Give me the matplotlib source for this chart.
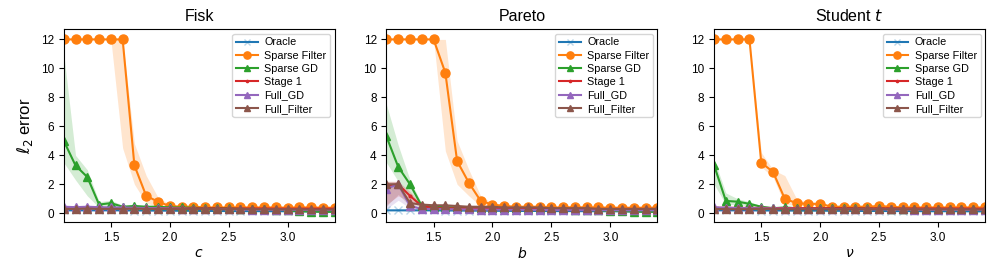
import numpy as np
import matplotlib
matplotlib.use("Agg")
import matplotlib.pyplot as plt

plt.rcParams['font.family'] = ['Liberation Sans', 'DejaVu Sans']

x = [1.1, 1.2, 1.3, 1.4, 1.5, 1.6, 1.7, 1.8, 1.9, 2.0, 2.1, 2.2,
     2.3, 2.4, 2.5, 2.6, 2.7, 2.8, 2.9, 3.0, 3.1, 3.2, 3.3, 3.4]

titles = ["Fisk", "Pareto", "Student $t$"]
xlabels = ["$c$", "$b$", r"$\nu$"]
methods = ["Oracle", "Sparse Filter", "Sparse GD", "Stage 1", "Full_GD", "Full_Filter"]

# ---- Fisk ----
fisk_oracle = [0.2, 0.2, 0.2, 0.2, 0.2, 0.2, 0.19, 0.19, 0.18, 0.18, 0.17, 0.17, 0.16, 0.16, 0.15, 0.15, 0.15, 0.14, 0.14, 0.14, 0.13, 0.13, 0.13, 0.12]
fisk_sf = [12, 12, 12, 12, 12, 12, 3.3, 1.2, 0.8, 0.5, 0.45, 0.45, 0.4, 0.4, 0.4, 0.4, 0.4, 0.4, 0.4, 0.38, 0.4, 0.4, 0.38, 0.38]
fisk_sf_lo = [12, 12, 12, 12, 12, 4.5, 2.0, 0.7, 0.45, 0.4, 0.4, 0.4, 0.35, 0.35, 0.35, 0.35, 0.35, 0.35, 0.35, 0.33, 0.35, 0.35, 0.33, 0.33]
fisk_sf_hi = [12, 12, 12, 12, 12, 12, 4.8, 2.6, 1.1, 0.6, 0.5, 0.5, 0.45, 0.45, 0.45, 0.45, 0.45, 0.45, 0.45, 0.43, 0.45, 0.45, 0.43, 0.43]
fisk_sgd = [5.0, 3.3, 2.5, 0.6, 0.7, 0.45, 0.5, 0.45, 0.45, 0.4, 0.4, 0.38, 0.35, 0.35, 0.35, 0.3, 0.3, 0.28, 0.25, 0.2, 0.15, 0.12, 0.1, 0.1]
fisk_sgd_lo = [3.5, 2.3, 1.2, 0.4, 0.5, 0.35, 0.4, 0.38, 0.38, 0.33, 0.33, 0.32, 0.3, 0.3, 0.3, 0.25, 0.25, 0.22, 0.2, 0.15, 0.1, 0.07, 0.05, 0.05]
fisk_sgd_hi = [11.0, 4.0, 3.0, 0.8, 0.9, 0.55, 0.6, 0.52, 0.52, 0.47, 0.47, 0.44, 0.4, 0.4, 0.4, 0.35, 0.35, 0.34, 0.3, 0.25, 0.2, 0.17, 0.15, 0.15]
fisk_st1 = [0.38, 0.37, 0.37, 0.36, 0.36, 0.36, 0.35, 0.35, 0.35, 0.35, 0.34, 0.34, 0.34, 0.34, 0.33, 0.33, 0.33, 0.33, 0.32, 0.32, 0.32, 0.32, 0.32, 0.32]
fisk_fgd = [0.45, 0.42, 0.45, 0.42, 0.4, 0.4, 0.38, 0.36, 0.35, 0.33, 0.32, 0.3, 0.3, 0.28, 0.28, 0.26, 0.25, 0.25, 0.24, 0.24, 0.23, 0.22, 0.22, 0.22]
fisk_ff = [0.3, 0.3, 0.32, 0.3, 0.3, 0.3, 0.32, 0.3, 0.3, 0.3, 0.28, 0.3, 0.3, 0.28, 0.28, 0.3, 0.28, 0.28, 0.27, 0.27, 0.27, 0.26, 0.26, 0.26]

# ---- Pareto ----
par_oracle = [0.2, 0.2, 0.2, 0.2, 0.2, 0.19, 0.19, 0.18, 0.18, 0.17, 0.17, 0.16, 0.16, 0.16, 0.15, 0.15, 0.15, 0.14, 0.14, 0.14, 0.13, 0.13, 0.13, 0.13]
par_sf = [12, 12, 12, 12, 12, 9.7, 3.6, 2.1, 0.85, 0.6, 0.5, 0.45, 0.45, 0.45, 0.4, 0.4, 0.42, 0.4, 0.4, 0.38, 0.38, 0.38, 0.38, 0.38]
par_sf_lo = [12, 12, 12, 12, 12, 4.3, 2.0, 1.2, 0.5, 0.45, 0.42, 0.4, 0.4, 0.4, 0.35, 0.35, 0.37, 0.35, 0.35, 0.33, 0.33, 0.33, 0.33, 0.33]
par_sf_hi = [12, 12, 12, 12, 12, 12, 5.0, 3.0, 1.2, 0.7, 0.58, 0.5, 0.5, 0.5, 0.45, 0.45, 0.47, 0.45, 0.45, 0.43, 0.43, 0.43, 0.43, 0.43]
par_sgd = [5.3, 3.2, 2.0, 0.5, 0.45, 0.42, 0.4, 0.38, 0.36, 0.35, 0.34, 0.33, 0.32, 0.3, 0.28, 0.26, 0.24, 0.22, 0.2, 0.18, 0.15, 0.12, 0.1, 0.1]
par_sgd_lo = [3.5, 2.2, 1.2, 0.35, 0.38, 0.36, 0.34, 0.32, 0.3, 0.3, 0.29, 0.28, 0.27, 0.25, 0.23, 0.21, 0.19, 0.17, 0.15, 0.13, 0.1, 0.07, 0.05, 0.05]
par_sgd_hi = [7.5, 4.7, 2.3, 0.65, 0.52, 0.48, 0.46, 0.44, 0.42, 0.4, 0.39, 0.38, 0.37, 0.35, 0.33, 0.31, 0.29, 0.27, 0.25, 0.23, 0.2, 0.17, 0.15, 0.15]
par_st1 = [1.9, 2.0, 1.2, 0.5, 0.35, 0.35, 0.34, 0.34, 0.33, 0.33, 0.33, 0.32, 0.32, 0.32, 0.31, 0.31, 0.31, 0.3, 0.3, 0.3, 0.3, 0.3, 0.3, 0.3]
par_st1_lo = [0.6, 1.2, 0.8, 0.4, 0.3, 0.3, 0.3, 0.3, 0.29, 0.29, 0.29, 0.28, 0.28, 0.28, 0.27, 0.27, 0.27, 0.26, 0.26, 0.26, 0.26, 0.26, 0.26, 0.26]
par_st1_hi = [2.2, 2.2, 1.5, 0.6, 0.4, 0.4, 0.38, 0.38, 0.37, 0.37, 0.37, 0.36, 0.36, 0.36, 0.35, 0.35, 0.35, 0.34, 0.34, 0.34, 0.34, 0.34, 0.34, 0.34]
par_fgd = [1.7, 2.0, 0.5, 0.3, 0.3, 0.28, 0.27, 0.26, 0.25, 0.25, 0.24, 0.24, 0.23, 0.23, 0.22, 0.22, 0.22, 0.21, 0.21, 0.21, 0.2, 0.2, 0.2, 0.2]
par_fgd_lo = [0.3, 0.9, 0.35, 0.25, 0.25, 0.24, 0.23, 0.22, 0.21, 0.21, 0.2, 0.2, 0.19, 0.19, 0.18, 0.18, 0.18, 0.17, 0.17, 0.17, 0.16, 0.16, 0.16, 0.16]
par_fgd_hi = [2.1, 2.1, 0.7, 0.35, 0.35, 0.32, 0.31, 0.3, 0.29, 0.29, 0.28, 0.28, 0.27, 0.27, 0.26, 0.26, 0.26, 0.25, 0.25, 0.25, 0.24, 0.24, 0.24, 0.24]
par_ff = [2.0, 2.0, 0.7, 0.6, 0.55, 0.55, 0.5, 0.45, 0.45, 0.45, 0.4, 0.4, 0.4, 0.4, 0.35, 0.35, 0.35, 0.35, 0.3, 0.3, 0.3, 0.3, 0.3, 0.3]
par_ff_lo = [0.5, 1.3, 0.5, 0.5, 0.48, 0.48, 0.44, 0.4, 0.4, 0.4, 0.35, 0.35, 0.35, 0.35, 0.3, 0.3, 0.3, 0.3, 0.26, 0.26, 0.26, 0.26, 0.26, 0.26]
par_ff_hi = [2.2, 2.2, 1.0, 0.7, 0.62, 0.62, 0.56, 0.5, 0.5, 0.5, 0.45, 0.45, 0.45, 0.45, 0.4, 0.4, 0.4, 0.4, 0.34, 0.34, 0.34, 0.34, 0.34, 0.34]

# ---- Student t ----
st_oracle = [0.2, 0.2, 0.2, 0.2, 0.19, 0.19, 0.19, 0.18, 0.18, 0.18, 0.17, 0.17, 0.16, 0.16, 0.16, 0.15, 0.15, 0.15, 0.14, 0.14, 0.14, 0.14, 0.13, 0.13]
st_sf = [12, 12, 12, 12, 3.5, 2.85, 1.0, 0.7, 0.65, 0.65, 0.45, 0.45, 0.45, 0.45, 0.5, 0.45, 0.4, 0.4, 0.4, 0.4, 0.4, 0.4, 0.4, 0.4]
st_sf_lo = [12, 12, 12, 12, 3.2, 2.5, 0.6, 0.55, 0.55, 0.55, 0.4, 0.4, 0.4, 0.4, 0.44, 0.4, 0.35, 0.35, 0.35, 0.35, 0.35, 0.35, 0.35, 0.35]
st_sf_hi = [12, 12, 12, 12, 4.2, 3.0, 2.6, 1.0, 0.75, 0.75, 0.5, 0.5, 0.5, 0.5, 0.56, 0.5, 0.45, 0.45, 0.45, 0.45, 0.45, 0.45, 0.45, 0.45]
st_sgd = [3.3, 0.85, 0.8, 0.65, 0.45, 0.35, 0.4, 0.35, 0.35, 0.35, 0.35, 0.35, 0.35, 0.33, 0.33, 0.32, 0.32, 0.3, 0.3, 0.3, 0.3, 0.28, 0.28, 0.28]
st_sgd_lo = [2.0, 0.6, 0.6, 0.5, 0.38, 0.3, 0.34, 0.3, 0.3, 0.3, 0.3, 0.3, 0.3, 0.28, 0.28, 0.27, 0.27, 0.25, 0.25, 0.25, 0.25, 0.23, 0.23, 0.23]
st_sgd_hi = [3.7, 1.4, 1.0, 0.8, 0.52, 0.4, 0.46, 0.4, 0.4, 0.4, 0.4, 0.4, 0.4, 0.38, 0.38, 0.37, 0.37, 0.35, 0.35, 0.35, 0.35, 0.33, 0.33, 0.33]
st_st1 = [0.38, 0.38, 0.37, 0.37, 0.37, 0.36, 0.36, 0.36, 0.35, 0.35, 0.35, 0.35, 0.34, 0.34, 0.34, 0.34, 0.33, 0.33, 0.33, 0.33, 0.33, 0.33, 0.32, 0.32]
st_fgd = [0.4, 0.38, 0.36, 0.35, 0.34, 0.33, 0.32, 0.31, 0.3, 0.3, 0.29, 0.28, 0.28, 0.27, 0.27, 0.26, 0.26, 0.25, 0.25, 0.24, 0.24, 0.24, 0.23, 0.23]
st_ff = [0.3, 0.28, 0.28, 0.28, 0.3, 0.3, 0.28, 0.28, 0.28, 0.28, 0.28, 0.28, 0.28, 0.28, 0.28, 0.28, 0.27, 0.27, 0.27, 0.27, 0.27, 0.27, 0.26, 0.26]

panels = [
    {"Oracle": (fisk_oracle, None, None),
     "Sparse Filter": (fisk_sf, fisk_sf_lo, fisk_sf_hi),
     "Sparse GD": (fisk_sgd, fisk_sgd_lo, fisk_sgd_hi),
     "Stage 1": (fisk_st1, None, None),
     "Full_GD": (fisk_fgd, None, None),
     "Full_Filter": (fisk_ff, None, None)},
    {"Oracle": (par_oracle, None, None),
     "Sparse Filter": (par_sf, par_sf_lo, par_sf_hi),
     "Sparse GD": (par_sgd, par_sgd_lo, par_sgd_hi),
     "Stage 1": (par_st1, par_st1_lo, par_st1_hi),
     "Full_GD": (par_fgd, par_fgd_lo, par_fgd_hi),
     "Full_Filter": (par_ff, par_ff_lo, par_ff_hi)},
    {"Oracle": (st_oracle, None, None),
     "Sparse Filter": (st_sf, st_sf_lo, st_sf_hi),
     "Sparse GD": (st_sgd, st_sgd_lo, st_sgd_hi),
     "Stage 1": (st_st1, None, None),
     "Full_GD": (st_fgd, None, None),
     "Full_Filter": (st_ff, None, None)},
]

colors = {"Oracle": "#1f77b4", "Sparse Filter": "#ff7f0e", "Sparse GD": "#2ca02c",
          "Stage 1": "#d62728", "Full_GD": "#9467bd", "Full_Filter": "#8c564b"}
markers = {"Oracle": ("x", 6), "Sparse Filter": ("o", 6.5), "Sparse GD": ("^", 6),
           "Stage 1": (".", 4), "Full_GD": ("^", 6), "Full_Filter": ("^", 6)}

fig = plt.figure(figsize=(9.96, 2.71), dpi=100)
lefts = [0.064, 0.388, 0.717]
width = 0.272
for i, data in enumerate(panels):
    ax = fig.add_axes([lefts[i], 0.181, width, 0.711])
    for m in methods:
        y, lo, hi = data[m]
        mk, ms = markers[m]
        if m == "Oracle":
            ax.plot(x, y, color=colors[m], marker=mk, markersize=ms, lw=1.5, label=m,
                    markeredgecolor=(0.12, 0.47, 0.71, 0.3), markeredgewidth=1.0)
        else:
            ax.plot(x, y, color=colors[m], marker=mk, markersize=ms, lw=1.5, label=m)
        if lo is not None:
            ax.fill_between(x, lo, hi, color=colors[m], alpha=0.2, lw=0)
    ax.set_xlim(1.1, 3.4)
    ax.set_ylim(-0.6, 12.7)
    ax.set_xticks([1.5, 2.0, 2.5, 3.0])
    ax.set_yticks([0, 2, 4, 6, 8, 10, 12])
    ax.tick_params(labelsize=8.5)
    ax.set_title(titles[i], fontsize=11.5)
    ax.set_xlabel(xlabels[i], fontsize=10, labelpad=2)
    ax.legend(loc="upper right", fontsize=7.8, handlelength=2.0, labelspacing=0.3,
              borderpad=0.35, markerscale=0.8, handletextpad=0.6, borderaxespad=0.4)
    if i == 0:
        ax.set_ylabel(r"$\ell_2$ error", fontsize=12)

fig.savefig("out.png", dpi=100)
